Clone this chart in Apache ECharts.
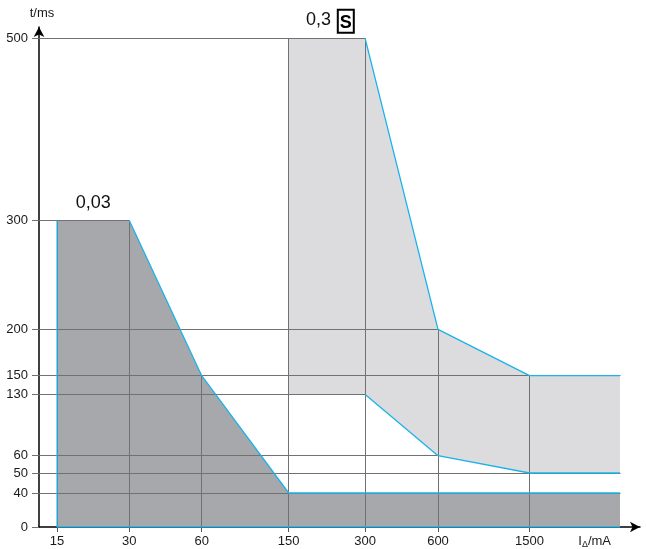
<!DOCTYPE html>
<html><head><meta charset="utf-8">
<script src="https://cdn.jsdelivr.net/npm/echarts@6/dist/echarts.min.js"></script>
<style>html,body{margin:0;padding:0;background:#fff}#c{width:646px;height:549px}</style>
</head><body><div id="c"></div>
<script>
// ---- tick labels ----
const xTickValues = [15, 30, 60, 150, 300, 600, 1500];
const yTickValues = [0, 40, 50, 60, 130, 150, 200, 300, 500];
const xRightEnd = 3000; // right-hand end of the curves (past the last labelled tick)

// ---- RCD 0,03 : upper boundary, filled down to 0 ----
const rcd003Current = [15, 30, 60, 150, xRightEnd];
const rcd003Time = [300, 300, 150, 40, 40];

// ---- RCD 0,3 S : band between max and min ----
const rcd03Current = [150, 300, 600, 1500, xRightEnd];
const rcd03TimeMax = [500, 500, 200, 150, 150];
const rcd03TimeMin = [130, 130, 60, 50, 50];

const seriesLabels = ['0,03', '0,3'];

// ---- axis layout (the reference uses a schematic, piecewise scale) ----
const xBreaks = [15, 30, 60, 150, 300, 600, 1500, 3000];
const xBreakPos = [18.1, 90.3, 162.7, 249.7, 326.2, 399, 490.5, 581];
const yBreaks = [0, 40, 50, 60, 130, 150, 200, 300, 500];
const yBreakPos = [0, 34, 54, 71.3, 132.6, 151.3, 197.6, 306.6, 488.3];

function pw(v, b, p) {
  for (let i = 0; i < b.length - 1; i++) {
    if (v <= b[i + 1] || i === b.length - 2) {
      const t = (v - b[i]) / (b[i + 1] - b[i]);
      return p[i] + t * (p[i + 1] - p[i]);
    }
  }
}
const X = v => pw(v, xBreaks, xBreakPos);
const Y = v => pw(v, yBreaks, yBreakPos);
const P = (i, t) => [X(i), Y(t)];
function nearestLabel(v, ticks, map) {
  let best = 0, bd = Infinity;
  ticks.forEach((t, k) => { const d = Math.abs(map(t) - v); if (d < bd) { bd = d; best = k; } });
  return String(ticks[best]);
}

const FONT = "'Liberation Sans', Arial, sans-serif";
const BLUE = '#1cb2ea';
const GRID = '#717171';

// polygons
const poly003 = [P(rcd003Current[0], 0)]
  .concat(rcd003Current.map((c, i) => P(c, rcd003Time[i])))
  .concat([P(rcd003Current[rcd003Current.length - 1], 0)]);
const poly03 = rcd03Current.map((c, i) => P(c, rcd03TimeMax[i]))
  .concat(rcd03Current.map((c, i) => P(c, rcd03TimeMin[i])).reverse());

// drop lines from every vertex to the axes
const vertices = [];
rcd003Current.forEach((c, i) => vertices.push([c, rcd003Time[i]]));
rcd03Current.forEach((c, i) => { vertices.push([c, rcd03TimeMax[i]]); vertices.push([c, rcd03TimeMin[i]]); });
const segs = [];
vertices.forEach(([c, t]) => {
  if (t > 0) segs.push([[0, Y(t)], P(c, t)]);
  if (xTickValues.indexOf(c) >= 0) segs.push([P(c, 0), P(c, t)]);
});

const crisp = v => Math.round(v - 0.5) + 0.5;

function blueLine(pts) {
  return {
    type: 'line', data: pts, symbol: 'none', silent: true, animation: false, z: 5,
    lineStyle: { color: BLUE, width: 1.3 }
  };
}

const chart = echarts.init(document.getElementById('c'), null, { renderer: 'canvas' });
chart.setOption({
  animation: false,
  grid: { left: 39, right: 6, top: 27, bottom: 22, containLabel: false },
  xAxis: {
    type: 'value', min: 0, max: 601,
    axisLine: { show: true, onZero: false, symbol: ['none', 'arrow'], symbolSize: [8, 10], lineStyle: { color: '#000', width: 1.5 } },
    axisTick: { show: true, customValues: xTickValues.map(X), length: 5, lineStyle: { color: '#555' } },
    axisLabel: { customValues: xTickValues.map(X), formatter: v => nearestLabel(v, xTickValues, X), fontSize: 13, color: '#1a1a1a', fontFamily: FONT, margin: 8 },
    splitLine: { show: false },
    name: 'I{s|Δ}/mA', nameLocation: 'end', nameGap: -29,
    nameTextStyle: { fontSize: 13, color: '#1a1a1a', fontFamily: FONT, align: 'right', verticalAlign: 'top', padding: [6, 0, 0, 0], lineHeight: 16,
      rich: { s: { fontSize: 9, fontFamily: FONT, color: '#1a1a1a', lineHeight: 10, verticalAlign: 'bottom' } } }
  },
  yAxis: {
    type: 'value', min: 0, max: 500,
    axisLine: { show: true, onZero: false, symbol: ['none', 'arrow'], symbolSize: [8, 10], lineStyle: { color: '#000', width: 1.5 } },
    axisTick: { show: true, customValues: yTickValues.map(Y), length: 7, lineStyle: { color: GRID } },
    axisLabel: { customValues: yTickValues.map(Y), formatter: v => nearestLabel(v, yTickValues, Y), fontSize: 13, color: '#1a1a1a', fontFamily: FONT, margin: 11 },
    splitLine: { show: false },
    name: 't/ms', nameLocation: 'end', nameGap: 7,
    nameTextStyle: { fontSize: 13, color: '#1a1a1a', fontFamily: FONT, padding: [0, 0, 0, 6] }
  },
  series: [
    { type: 'custom', silent: true, z: 1, data: [[0, 0]],
      renderItem: (p, api) => ({ type: 'polygon', shape: { points: poly003.map(q => api.coord(q)) }, style: { fill: '#a7a8ab' } }) },
    { type: 'custom', silent: true, z: 1, data: [[0, 0]],
      renderItem: (p, api) => ({ type: 'polygon', shape: { points: poly03.map(q => api.coord(q)) }, style: { fill: '#dcdcde' } }) },
    { type: 'custom', silent: true, z: 3, data: [[0, 0]],
      renderItem: (p, api) => ({ type: 'group', children: segs.map(([a, b]) => {
        const p1 = api.coord(a), p2 = api.coord(b);
        return { type: 'line', shape: { x1: crisp(p1[0]), y1: crisp(p1[1]), x2: crisp(p2[0]), y2: crisp(p2[1]) }, style: { stroke: GRID, lineWidth: 1 } };
      }) }) },
    blueLine([P(rcd003Current[0], rcd003Time[0]), P(rcd003Current[0], 0), P(rcd003Current[rcd003Current.length - 1], 0)]),
    blueLine(rcd003Current.slice(1).map((c, i) => P(c, rcd003Time[i + 1]))),
    blueLine(rcd03Current.slice(1).map((c, i) => P(c, rcd03TimeMax[i + 1]))),
    blueLine(rcd03Current.slice(1).map((c, i) => P(c, rcd03TimeMin[i + 1]))),
    { type: 'custom', silent: true, z: 10, data: [[0, 0]],
      renderItem: (p, api) => {
        const a = api.coord([(X(rcd003Current[0]) + X(rcd003Current[1])) / 2, Y(rcd003Time[0])]);
        const b = api.coord([(X(rcd03Current[0]) + X(rcd03Current[1])) / 2, Y(rcd03TimeMax[0])]);
        return { type: 'group', children: [
          { type: 'text', x: a[0], y: a[1] - 8, style: { text: seriesLabels[0], fontSize: 18, fontFamily: FONT, fill: '#111', align: 'center', verticalAlign: 'bottom' } },
          { type: 'text', x: b[0] + 3, y: b[1] - 6, style: { text: '{a|' + seriesLabels[1] + '}  {s|S}', align: 'center', verticalAlign: 'bottom',
            rich: { a: { fontSize: 18, fontFamily: FONT, fill: '#111', color: '#111', padding: [0, 0, 2, 0] },
                    s: { fontSize: 18, fontWeight: 'bold', fontFamily: FONT, color: '#000', fill: '#000', borderColor: '#000', borderWidth: 2, padding: [4, 2, 1, 2] } } } }
        ] };
      } }
  ]
});
</script></body></html>
